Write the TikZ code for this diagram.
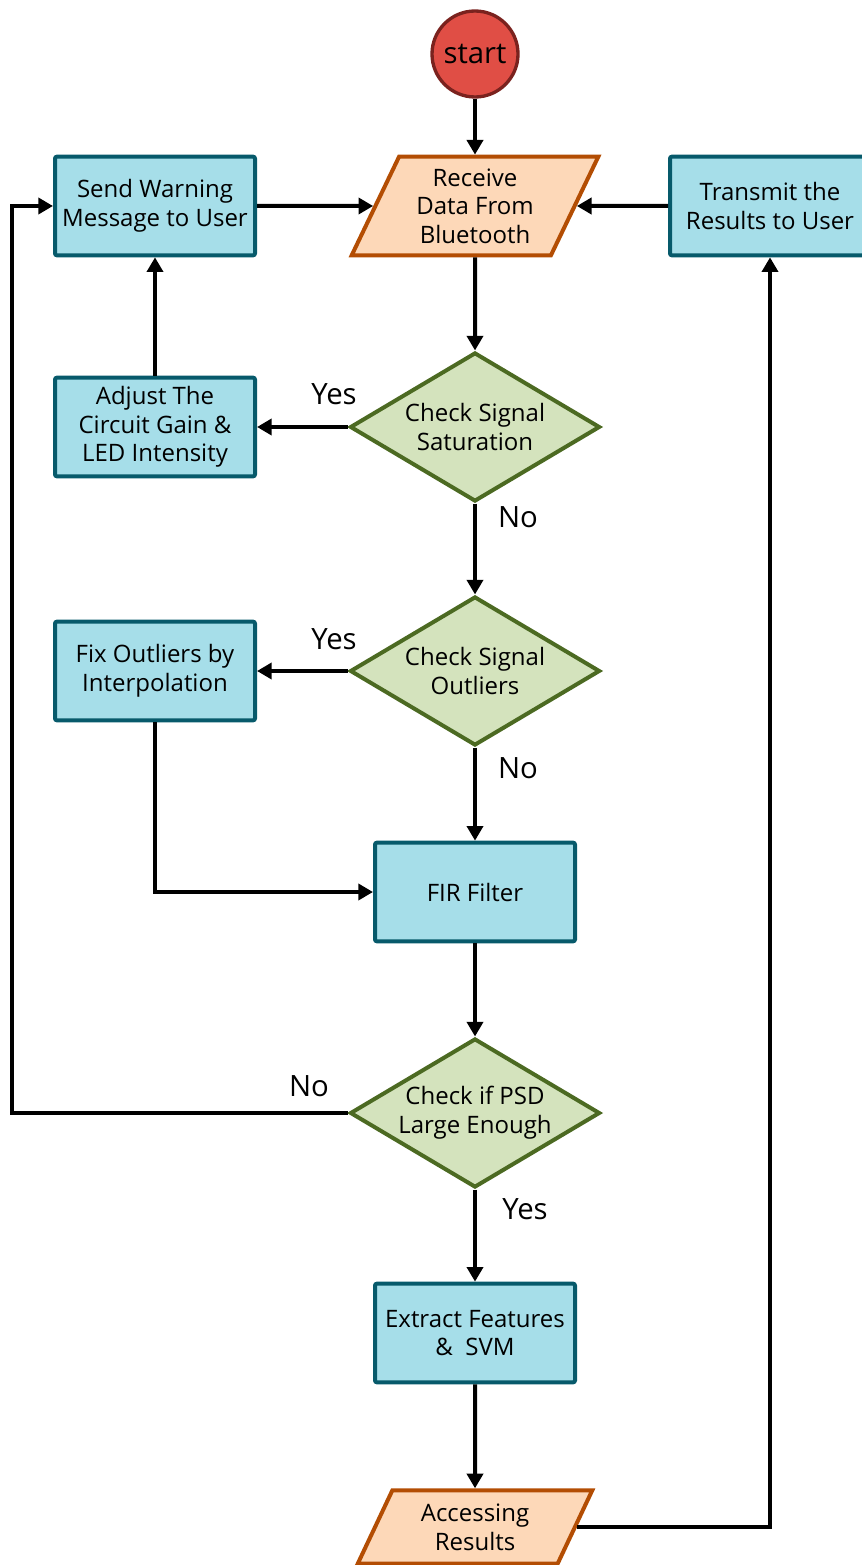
\documentclass[tikz,border=0pt]{standalone}
\usepackage{fontspec}
\setmainfont{Open Sans}
\usetikzlibrary{arrows.meta,shapes.geometric}
\definecolor{procfill}{HTML}{A6DEE9}
\definecolor{procline}{HTML}{075A6B}
\definecolor{decfill}{HTML}{D4E3BD}
\definecolor{decline}{HTML}{4C6A22}
\definecolor{iofill}{HTML}{FDD8B8}
\definecolor{ioline}{HTML}{B34D03}
\definecolor{termfill}{HTML}{E04E45}
\definecolor{termline}{HTML}{7A221E}
\tikzset{
  txt/.style   = {align=center, inner sep=0pt, font=\fontsize{18}{21.5}\selectfont},
  proc/.style  = {txt, draw=procline, line width=3pt, fill=procfill, minimum width=150pt,
                  minimum height=74pt, rounded corners=1.5pt},
  dec/.style   = {txt, diamond, aspect=1.68, draw=decline, line width=3pt, fill=decfill,
                  minimum width=187.5pt, minimum height=111.75pt},
  io/.style    = {txt, trapezium, trapezium left angle=64, trapezium right angle=116,
                  trapezium stretches=true, draw=ioline, line width=3pt, fill=iofill},
  term/.style  = {circle, draw=termline, line width=2.5pt, fill=termfill, minimum size=64.5pt,
                  inner sep=0pt, font=\fontsize{22}{26}\selectfont},
  wire/.style  = {line width=3pt},
  flow/.style  = {wire, -{Triangle[length=11pt,width=12pt]}},
  lbl/.style   = {font=\fontsize{22}{26}\selectfont},
}
\begin{document}
\begin{tikzpicture}[x=0.75pt,y=-0.75pt]
  \useasboundingbox (0,0) rectangle (862,1565);
  % top row
  \node[term] (start) at (475,54) {start};
  \node[io, minimum width=185pt, minimum height=74pt] (recv) at (475,206) {Receive\\Data From\\Bluetooth};
  \node[proc] (warn) at (155,206) {Send Warning\\Message to User};
  \node[proc] (trans) at (770,206) {Transmit the\\Results to User};
  % checks
  \node[dec] (sat) at (475,427) {Check Signal\\Saturation};
  \node[proc] (adj) at (155,427) {Adjust The\\Circuit Gain \&\\LED Intensity};
  \node[dec] (outl) at (475,671) {Check Signal\\Outliers};
  \node[proc] (fix) at (155,671) {Fix Outliers by\\Interpolation};
  \node[proc] (fir) at (475,892) {FIR Filter};
  \node[dec] (psd) at (475,1113) {Check if PSD\\Large Enough};
  \node[proc] (feat) at (475,1333) {Extract Features\\\&\ \ SVM};
  \node[io, minimum width=176pt, minimum height=55pt] (acc) at (475,1527) {Accessing\\Results};
  \coordinate (loop) at (12,1113);

  \draw[flow] (start) -- (recv);
  \draw[flow] (warn) -- (recv);
  \draw[flow] (trans) -- (recv);
  \draw[flow] (recv) -- (sat);
  \draw[flow] (sat) -- (adj);
  \draw[flow] (adj) -- (warn);
  \draw[flow] (sat) -- (outl);
  \draw[flow] (outl) -- (fix);
  \draw[flow] (outl) -- (fir);
  \draw[flow] (fix.south) |- (fir.west);
  \draw[flow] (fir) -- (psd);
  \draw[flow] (psd.west) -- (loop) |- (warn.west);
  \draw[flow] (psd) -- (feat);
  \draw[flow] (feat) -- (acc);
  \draw[flow] (acc.east) -| (trans.south);

  \node[lbl] (y1) at (334,394) {Yes};
  \node[lbl] (n1) at (518,517) {No};
  \node[lbl] (y2) at (334,639) {Yes};
  \node[lbl] (n2) at (518,768) {No};
  \node[lbl] (n3) at (309,1086) {No};
  \node[lbl] (y3) at (525,1209) {Yes};
\end{tikzpicture}
\end{document}
